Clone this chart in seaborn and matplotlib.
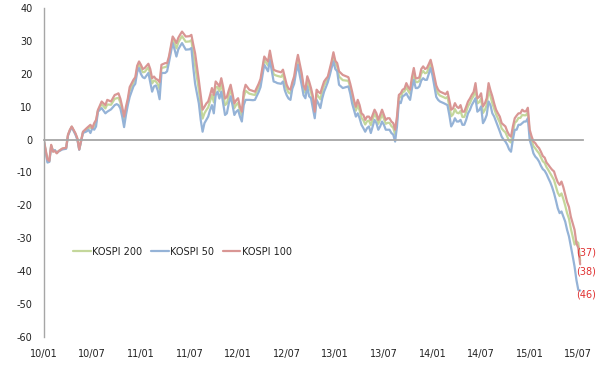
import matplotlib
matplotlib.use('Agg')
import matplotlib.pyplot as plt
import numpy as np
import pandas as pd
import seaborn as sns

# week number since 2010/01 (26 weeks ~ half a year)
weeks = [0, 2, 3, 4, 5, 6, 7, 8, 10, 12, 13, 14, 15, 17, 18, 19, 21, 23, 24, 25,
         26, 27, 28, 29, 31, 33, 34, 36, 38, 39, 40, 41, 42, 43, 44, 45, 46, 48, 49, 50,
         51, 52, 53, 54, 56, 57, 58, 59, 60, 61, 62, 63, 65, 66, 67, 69, 70, 71, 72, 73,
         74, 76, 78, 79, 80, 81, 83, 84, 85, 86, 87, 88, 89, 90, 91, 92, 93, 94, 95, 96,
         97, 98, 99, 100, 101, 102, 103, 104, 105, 106, 107, 108, 110, 112, 113, 115, 116, 117, 118, 119,
         120, 121, 122, 123, 124, 125, 127, 128, 129, 130, 131, 132, 133, 134, 135, 136, 137, 138, 139, 140,
         141, 142, 143, 144, 145, 146, 147, 148, 149, 150, 151, 152, 153, 154, 155, 156, 157, 158, 160, 163,
         164, 165, 166, 167, 168, 169, 170, 171, 172, 173, 174, 175, 177, 178, 179, 180, 181, 182, 183, 184,
         185, 186, 187, 188, 189, 190, 191, 192, 193, 194, 195, 196, 197, 198, 199, 200, 201, 202, 203, 204,
         205, 206, 207, 208, 209, 210, 211, 212, 214, 215, 216, 217, 218, 219, 220, 221, 222, 223, 224, 225,
         226, 227, 228, 229, 230, 231, 232, 233, 234, 235, 236, 237, 238, 239, 240, 241, 242, 243, 244, 245,
         246, 247, 248, 249, 250, 251, 252, 253, 254, 255, 256, 257, 258, 259, 260, 261, 262, 263, 264, 265,
         266, 267, 268, 269, 270, 271, 272, 273, 274, 275, 276, 277, 278, 279, 280, 281, 282, 283, 284, 285,
         286, 287]

kospi100 = [0, -6.0, -6.5, -1.6, -3.7, -3.5, -4.2, -3.5, -2.7, -2.5, 1.5, 3.0, 4.0, 1.9, 0.4, -3.0, 2.4, 3.5, 4.0, 4.5,
            3.5, 5.0, 6.0, 9.0, 11.6, 10.5, 12.1, 11.6, 13.6, 13.8, 14.1, 12.5, 10.0, 7.0, 10.0, 12.5, 16.0, 18.2, 19.0, 22.5,
            23.8, 22.8, 21.5, 21.8, 23.1, 21.5, 18.7, 19.2, 18.5, 18.2, 17.5, 22.8, 23.3, 23.3, 25.3, 31.4, 30.5, 29.4, 31.0, 32.0,
            32.9, 31.4, 31.5, 31.9, 29.0, 26.3, 18.0, 13.5, 9.1, 10.0, 11.0, 11.6, 13.5, 15.7, 13.6, 17.7, 17.0, 16.2, 18.7, 16.0,
            12.5, 13.0, 15.0, 16.7, 14.0, 11.0, 12.0, 12.6, 10.0, 8.5, 14.5, 16.7, 15.2, 14.8, 14.6, 17.0, 18.5, 22.0, 25.3, 24.5,
            23.8, 27.1, 24.0, 21.3, 21.0, 20.8, 20.5, 21.3, 19.0, 16.7, 15.5, 15.2, 17.5, 19.3, 23.0, 25.8, 23.0, 20.3, 16.5, 15.2,
            19.3, 17.7, 15.7, 13.2, 8.5, 15.2, 14.5, 14.1, 16.0, 17.7, 18.5, 19.2, 21.5, 23.8, 26.6, 24.0, 23.3, 20.8, 19.7, 19.0,
            17.0, 14.6, 12.0, 10.0, 12.1, 10.5, 8.0, 7.5, 6.0, 7.0, 7.0, 6.0, 9.1, 8.0, 6.0, 7.5, 9.1, 7.5, 6.0, 6.5,
            6.5, 5.5, 5.0, 3.0, 7.0, 13.6, 14.1, 15.2, 15.5, 17.2, 16.0, 15.2, 19.0, 21.8, 18.7, 18.7, 19.0, 21.5, 22.3, 21.5,
            21.8, 23.0, 24.3, 22.0, 19.2, 16.5, 15.2, 14.6, 14.1, 13.8, 14.6, 12.0, 9.1, 9.5, 11.1, 10.0, 9.6, 10.5, 8.5, 8.5,
            10.0, 11.6, 12.5, 13.6, 14.5, 17.2, 12.6, 13.0, 14.1, 10.1, 11.0, 12.6, 17.2, 15.0, 13.2, 11.0, 9.1, 8.0, 7.0, 5.0,
            4.5, 4.0, 2.5, 1.4, 0.9, 4.0, 6.5, 7.3, 8.0, 8.0, 9.1, 8.6, 8.6, 9.7, 3.0, 1.0, -0.6, -1.1, -2.0, -2.6,
            -3.7, -5.0, -5.5, -7.0, -7.7, -8.5, -9.2, -9.7, -11.5, -13.0, -13.8, -12.8, -14.5, -16.8, -19.0, -20.5, -23.5, -25.5, -27.5, -31.6,
            -33.0, -38.0]

kospi50 = [0, -7.0, -6.8, -2.0, -3.5, -3.2, -4.0, -3.6, -3.0, -2.8, 1.2, 2.6, 3.8, 1.5, 0.0, -3.1, 2.0, 2.5, 3.0, 2.0,
           3.5, 3.0, 4.0, 8.5, 9.6, 8.0, 8.5, 9.2, 10.5, 10.8, 10.5, 9.5, 7.0, 3.8, 7.5, 10.5, 13.0, 16.2, 17.0, 20.5,
           21.8, 20.0, 19.0, 18.7, 20.3, 17.5, 14.6, 16.2, 16.5, 15.0, 12.3, 20.3, 20.3, 20.8, 23.5, 29.4, 27.5, 25.3, 27.5, 28.5,
           29.4, 27.4, 27.5, 27.9, 22.0, 17.0, 11.0, 6.0, 2.4, 5.0, 6.0, 7.0, 9.0, 10.5, 8.0, 13.5, 14.6, 12.5, 14.6, 11.0,
           7.5, 8.0, 11.0, 13.2, 10.5, 7.5, 8.5, 9.0, 7.0, 5.5, 10.5, 12.1, 12.1, 12.0, 12.1, 14.5, 16.0, 19.5, 22.8, 21.8,
           20.8, 24.3, 21.0, 17.7, 17.5, 17.2, 17.0, 17.7, 15.0, 13.5, 12.5, 12.1, 15.5, 17.0, 20.5, 22.8, 19.5, 16.7, 13.5, 12.6,
           16.2, 13.2, 12.6, 9.5, 6.5, 12.1, 11.0, 9.6, 12.5, 14.6, 16.0, 17.5, 19.5, 21.8, 23.8, 21.5, 20.8, 16.7, 15.7, 16.2,
           14.0, 11.0, 9.0, 7.0, 8.0, 6.5, 4.5, 3.5, 2.4, 3.5, 4.0, 2.0, 6.0, 5.0, 3.0, 4.0, 5.5, 4.5, 3.0, 3.0,
           3.0, 2.0, 1.5, -0.6, 4.0, 11.6, 11.1, 13.2, 13.5, 14.1, 13.0, 12.1, 15.5, 18.2, 15.7, 15.7, 16.2, 18.0, 18.7, 18.2,
           18.2, 20.0, 21.8, 19.5, 16.2, 13.0, 12.1, 11.6, 11.1, 10.8, 10.5, 7.5, 4.0, 5.0, 6.5, 5.5, 5.5, 6.0, 4.5, 4.5,
           6.0, 8.0, 9.0, 10.5, 11.5, 12.6, 8.5, 9.0, 10.1, 5.0, 6.0, 7.5, 11.6, 10.5, 8.0, 7.0, 5.5, 4.0, 2.5, 0.9,
           0.0, -0.6, -1.6, -3.0, -3.7, 0.0, 3.0, 3.0, 4.5, 4.5, 5.0, 5.5, 5.5, 6.5, -0.1, -2.0, -4.2, -5.2, -5.8, -6.7,
           -8.0, -9.0, -9.5, -10.5, -11.8, -13.0, -14.5, -16.3, -18.5, -20.9, -22.4, -21.9, -23.5, -25.0, -27.5, -29.5, -32.5, -35.5, -38.7, -42.8,
           -45.8, -46.0]

kospi200 = [0, -6.5, -6.6, -1.8, -3.6, -3.3, -4.1, -3.5, -2.8, -2.6, 1.4, 2.8, 3.9, 1.7, 0.2, -3.0, 2.2, 3.1, 3.6, 3.6,
            3.5, 4.2, 5.2, 8.8, 10.8, 9.5, 10.7, 10.6, 12.4, 12.6, 12.7, 11.3, 8.8, 5.7, 9.0, 11.7, 14.8, 17.4, 18.2, 21.7,
            23.0, 21.7, 20.5, 20.6, 22.0, 19.9, 17.1, 18.0, 17.7, 16.9, 15.4, 21.8, 22.1, 22.3, 24.6, 30.6, 29.3, 27.8, 29.6, 30.6,
            31.5, 29.8, 29.9, 30.3, 26.2, 22.6, 15.2, 10.5, 6.4, 8.0, 9.0, 9.8, 11.7, 13.6, 11.4, 16.0, 16.0, 14.7, 17.1, 14.0,
            10.5, 11.0, 13.4, 15.3, 12.6, 9.6, 10.6, 11.2, 8.8, 7.3, 12.9, 14.9, 14.0, 13.7, 13.6, 16.0, 17.5, 21.0, 24.3, 23.4,
            22.6, 26.0, 22.8, 19.9, 19.6, 19.4, 19.1, 19.9, 17.4, 15.4, 14.3, 14.0, 16.7, 18.4, 22.0, 24.6, 21.6, 18.9, 15.3, 14.2,
            18.1, 15.9, 14.5, 11.7, 7.7, 14.0, 13.1, 12.3, 14.6, 16.5, 17.5, 18.5, 20.7, 23.0, 25.5, 23.0, 22.3, 19.2, 18.1, 17.9,
            15.8, 13.2, 10.8, 8.8, 10.5, 8.9, 6.6, 5.9, 4.6, 5.6, 5.8, 4.4, 7.9, 6.8, 4.8, 6.1, 7.7, 6.3, 4.8, 5.1,
            5.1, 4.1, 3.6, 1.6, 5.8, 12.8, 12.9, 14.4, 14.7, 16.0, 14.8, 14.0, 17.6, 20.4, 17.5, 17.5, 17.9, 20.1, 20.9, 20.2,
            20.4, 21.8, 23.3, 21.0, 18.0, 15.1, 14.0, 13.4, 12.9, 12.6, 13.0, 10.2, 7.1, 7.7, 9.3, 8.2, 8.0, 8.7, 6.9, 6.9,
            8.4, 10.2, 11.1, 12.4, 13.3, 15.4, 11.0, 11.4, 12.5, 8.1, 9.0, 10.6, 15.0, 13.2, 11.1, 9.4, 7.7, 6.4, 5.2, 3.4,
            2.7, 2.2, 0.9, -0.4, -0.9, 2.4, 5.1, 5.6, 6.6, 6.6, 7.5, 7.4, 7.4, 8.4, 1.8, -0.2, -2.0, -2.7, -3.5, -4.2,
            -5.4, -6.6, -7.1, -8.4, -9.3, -10.3, -11.3, -12.3, -14.3, -16.2, -17.2, -16.4, -18.1, -20.1, -22.4, -24.1, -27.1, -29.5, -32.0, -31.0,
            -31.5, -37.0]

series_names = ['KOSPI 200', 'KOSPI 50', 'KOSPI 100']
end_labels = ['(37)', '(38)', '(46)']
tick_weeks = [0, 26, 52, 78, 104, 130, 156, 182, 208, 234, 260, 286]
tick_labels = ['10/01', '10/07', '11/01', '11/07', '12/01', '12/07',
               '13/01', '13/07', '14/01', '14/07', '15/01', '15/07']

df = pd.concat([
    pd.DataFrame({'week': weeks, 'value': kospi200, 'index': 'KOSPI 200'}),
    pd.DataFrame({'week': weeks, 'value': kospi50, 'index': 'KOSPI 50'}),
    pd.DataFrame({'week': weeks, 'value': kospi100, 'index': 'KOSPI 100'}),
])

sns.set_style('white')
plt.rcParams['font.family'] = ['DejaVu Sans']
plt.rcParams['axes.unicode_minus'] = False

palette = {'KOSPI 200': '#c4d79b', 'KOSPI 50': '#95b3d7', 'KOSPI 100': '#d99694'}
grey = '#a6a6a6'

fig = plt.figure(figsize=(6.02, 3.72), dpi=100)
ax = fig.add_axes([0.0726, 0.0954, 0.8958, 0.8823])

sns.lineplot(data=df, x='week', y='value', hue='index', hue_order=series_names,
             palette=palette, linewidth=1.6, ax=ax)

ax.set_xlim(0, 288.5)
ax.set_ylim(-60, 40)
ax.set_yticks(np.arange(-60, 41, 10))
ax.set_xlabel('')
ax.set_ylabel('')

for s in ['top', 'right']:
    ax.spines[s].set_visible(False)
ax.spines['left'].set_color(grey)
ax.spines['left'].set_linewidth(1.0)
ax.spines['bottom'].set_position(('data', 0))
ax.spines['bottom'].set_color(grey)
ax.spines['bottom'].set_linewidth(1.3)

ax.set_xticks(tick_weeks)
ax.tick_params(axis='x', direction='out', length=3, color=grey, labelbottom=False)
ax.tick_params(axis='y', direction='out', length=3, color=grey, pad=5,
               labelsize=7, labelcolor='#222222')

# date labels sit under the plot, not on the zero line
sec = ax.secondary_xaxis('bottom')
sec.set_xticks(tick_weeks, tick_labels)
sec.spines['bottom'].set_visible(False)
sec.tick_params(length=0, pad=9, labelsize=7, labelcolor='#222222')

# end value labels
offsets = [(-3, 6), (-3, -5), (-3, -3)]
ends = [kospi200[-1], kospi100[-1], kospi50[-1]]
for lab, v, off in zip(end_labels, ends, offsets):
    ax.annotate(lab, xy=(weeks[-1], v), xytext=off, textcoords='offset points',
                ha='left', va='center', fontsize=7, color='#e03030')

leg = ax.legend(loc='center left', bbox_to_anchor=(0.055, 0.258), ncol=3, frameon=False,
                fontsize=7, handlelength=1.8, handletextpad=0.15, columnspacing=0.9,
                borderpad=0, borderaxespad=0)
for t in leg.get_texts():
    t.set_color('#222222')

fig.savefig('out.png', dpi=100)
